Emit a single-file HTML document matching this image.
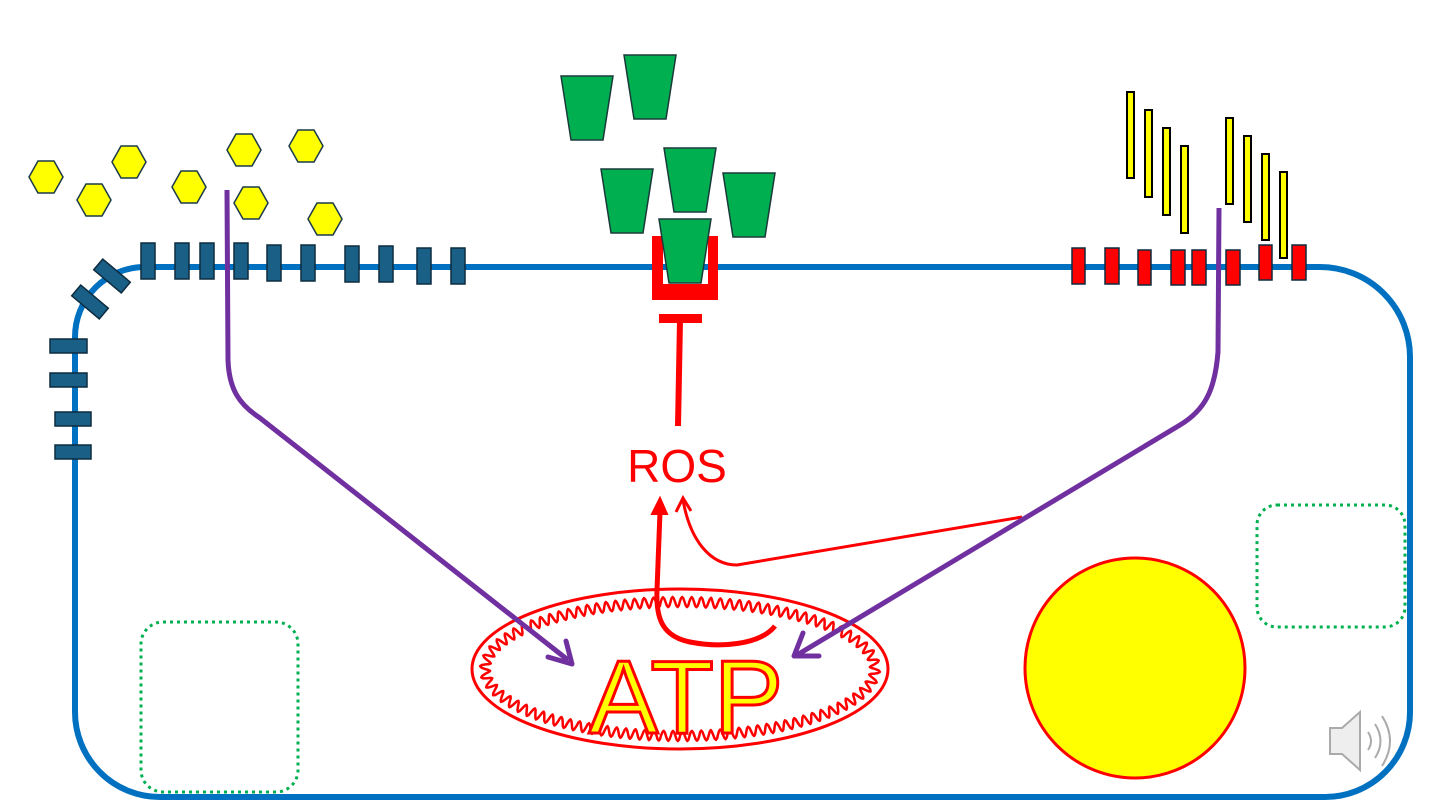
<!DOCTYPE html>
<html><head><meta charset="utf-8"><style>html,body{margin:0;padding:0;background:#fff}svg{display:block}</style></head>
<body>
<svg id="s" width="1440" height="810" viewBox="0 0 1440 810" xmlns="http://www.w3.org/2000/svg">
<path d="M145,267 L1320,267 A90,90 0 0 1 1410,357 L1410,712 A85,85 0 0 1 1325,797 L160,797 A85,85 0 0 1 75,712 L75,337 A70,70 0 0 1 145,267 Z" fill="none" stroke="#0070c0" stroke-width="6"/>
<rect x="141" y="622" width="157" height="170" rx="22" fill="none" stroke="#00b050" stroke-width="3" stroke-dasharray="3,4"/>
<rect x="1257" y="505" width="148" height="122" rx="20" fill="none" stroke="#00b050" stroke-width="3" stroke-dasharray="3,4"/>
<g fill="#1a5f86" stroke="#0d2b3f" stroke-width="1.5">
<rect x="141" y="243" width="14" height="36"/><rect x="175" y="243" width="14" height="36"/><rect x="200" y="243" width="14" height="36"/>
<rect x="234" y="243" width="14" height="36"/><rect x="267" y="245" width="14" height="36"/><rect x="301" y="245" width="14" height="36"/>
<rect x="345" y="246" width="14" height="36"/><rect x="379" y="246" width="14" height="36"/><rect x="417" y="248" width="14" height="36"/><rect x="451" y="248" width="14" height="36"/>
<rect x="94" y="269" width="36" height="14" transform="rotate(40 112 276)"/>
<rect x="72" y="295" width="36" height="14" transform="rotate(40 90 302)"/>
<rect x="50" y="339" width="37" height="14"/><rect x="50" y="373" width="37" height="14"/>
<rect x="55" y="412" width="36" height="14"/><rect x="55" y="445" width="36" height="14"/>
</g>
<g fill="#ff0000" stroke="#0d2b3f" stroke-width="1.5">
<rect x="1072" y="248" width="13" height="36"/><rect x="1105" y="248" width="14" height="36"/><rect x="1138" y="250" width="13" height="35"/>
<rect x="1171" y="250" width="14" height="35"/><rect x="1192" y="250" width="14" height="35"/><rect x="1226" y="250" width="14" height="35"/>
<rect x="1259" y="245" width="13" height="35"/><rect x="1292" y="245" width="14" height="35"/>
</g>
<g fill="#ffff00" stroke="#000" stroke-width="2">
<rect x="1127" y="92" width="7" height="86"/><rect x="1145" y="110" width="7" height="87"/><rect x="1163" y="128" width="7" height="87"/><rect x="1181" y="146" width="7" height="87"/>
<rect x="1226" y="118" width="7" height="86"/><rect x="1244" y="136" width="7" height="86"/><rect x="1262" y="154" width="7" height="86"/><rect x="1280" y="172" width="7" height="86"/>
</g>
<g fill="#ffff00" stroke="#1a3a4a" stroke-width="1.5" id="hex"></g>
<path d="M652,236 L652,300 L718,300 L718,236 L708,236 L708,284 L663,284 L663,236 Z" fill="#ff0000"/>
<g fill="#00b050" stroke="#1a3a3a" stroke-width="1.5" id="trap"></g>
<rect x="659" y="314" width="43" height="9" fill="#ff0000"/>
<line x1="680" y1="320" x2="678" y2="426" stroke="#ff0000" stroke-width="6"/>
<text x="677" y="482" font-family="Liberation Sans, sans-serif" font-size="46" fill="#ff0000" text-anchor="middle">ROS</text>
<ellipse cx="680" cy="669" rx="208" ry="80" fill="none" stroke="#ff0000" stroke-width="3"/>
<path id="zig" fill="none" stroke="#ff0000" stroke-width="2.5" stroke-linejoin="round"/>
<text x="686" y="733" font-family="Liberation Sans, sans-serif" font-size="104" fill="#ffff00" stroke="#ff0000" stroke-width="3" text-anchor="middle">ATP</text>
<path d="M775,626 C760,645 720,648 690,642 C660,636 656,615 657,590 L660,512" fill="none" stroke="#ff0000" stroke-width="5"/>
<path d="M652,514 L660,498 L667,514 Z" fill="#ff0000" stroke="#ff0000" stroke-width="2"/>
<path d="M1022,517 L737,565 C710,565 690,540 683,500" fill="none" stroke="#ff0000" stroke-width="3"/>
<path d="M676,512 L683,498 L691,511" fill="none" stroke="#ff0000" stroke-width="3"/>
<path d="M227,190 L228,360 C229,390 240,405 260,418 L568,660" fill="none" stroke="#7030a0" stroke-width="5"/>
<path d="M548,657 L572,664 L566,641" fill="none" stroke="#7030a0" stroke-width="5" stroke-linecap="round" stroke-linejoin="round"/>
<path d="M1219,208 L1218,352 C1215,390 1205,410 1180,425 L797,655" fill="none" stroke="#7030a0" stroke-width="5"/>
<path d="M803,633 L794,656 L819,656" fill="none" stroke="#7030a0" stroke-width="5" stroke-linecap="round" stroke-linejoin="round"/>
<circle cx="1135" cy="668" r="110" fill="#ffff00" stroke="#ff0000" stroke-width="3"/>
<g fill="none" stroke="#aaa" stroke-width="2">
<path d="M1330,728 L1342,728 L1360,712 L1360,770 L1342,754 L1330,754 Z" fill="#eee"/>
<path d="M1368,732 Q1374,741 1368,750"/><path d="M1375,724 Q1386,741 1375,758"/><path d="M1382,716 Q1398,741 1382,766"/>
</g>
</svg>
<script>
var ns="http://www.w3.org/2000/svg";
var hx=[[46,177],[129,162],[94,200],[189,187],[244,150],[306,146],[251,203],[325,219]];
var g=document.getElementById("hex");
hx.forEach(function(c){var p=document.createElementNS(ns,"polygon");var x=c[0],y=c[1];
p.setAttribute("points",[[x-17,y],[x-8,y-16],[x+8,y-16],[x+17,y],[x+8,y+16],[x-8,y+16]].map(function(a){return a.join(",")}).join(" "));g.appendChild(p);});
var tr=[[587,108],[650,87],[627,201],[690,180],[749,205],[685,251]];
var t=document.getElementById("trap");
tr.forEach(function(c){var p=document.createElementNS(ns,"polygon");var x=c[0],y=c[1];
p.setAttribute("points",[[x-26,y-32],[x+26,y-32],[x+16,y+32],[x-16,y+32]].map(function(a){return a.join(",")}).join(" "));t.appendChild(p);});
// arc-length parametrised wavy ellipse
var RX=195,RY=67,K=4000,pts=[],L=[0];
for(var i=0;i<=K;i++){var a=i/K*Math.PI*2;pts.push([RX*Math.cos(a),RY*Math.sin(a),a]);if(i>0){var dx=pts[i][0]-pts[i-1][0],dy=pts[i][1]-pts[i-1][1];L.push(L[i-1]+Math.sqrt(dx*dx+dy*dy));}}
var tot=L[K],N=92,d="",S=N*8,j=0;
for(var s=0;s<=S;s++){var target=s/S*tot;while(j<K&&L[j+1]<target)j++;var a=pts[j][2];
var x=RX*Math.cos(a),y=RY*Math.sin(a);var nx=Math.cos(a)/RX,ny=Math.sin(a)/RY;var nl=Math.sqrt(nx*nx+ny*ny);nx/=nl;ny/=nl;
var w=5*Math.sin(s/S*N*Math.PI*2);
d+=(s==0?"M":"L")+(680+x+nx*w).toFixed(1)+","+(669+y+ny*w).toFixed(1);}
document.getElementById("zig").setAttribute("d",d+"Z");
</script>
</body></html>
